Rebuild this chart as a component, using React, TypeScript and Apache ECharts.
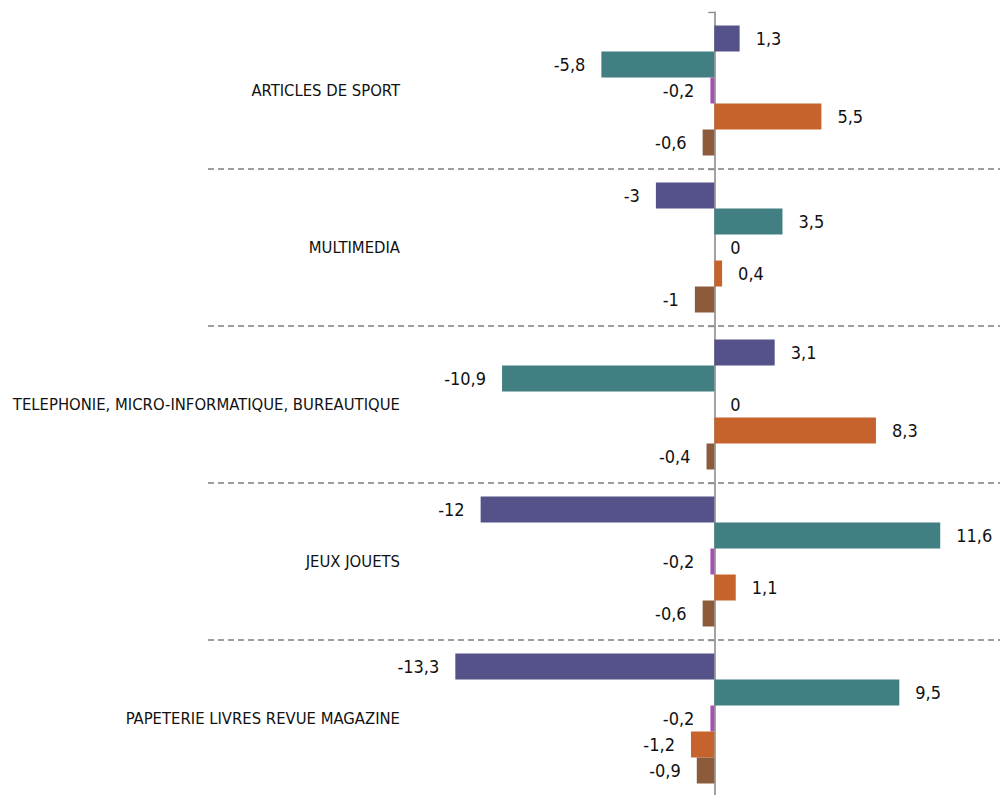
import React, { useEffect, useRef } from "react";
import * as echarts from "echarts";

const categories = [
  "ARTICLES DE SPORT",
  "MULTIMEDIA",
  "TELEPHONIE, MICRO-INFORMATIQUE, BUREAUTIQUE",
  "JEUX JOUETS",
  "PAPETERIE LIVRES REVUE MAGAZINE",
];

const seriesNames = ["Série 1", "Série 2", "Série 3", "Série 4", "Série 5"];
const seriesColors = ["#55528a", "#427f82", "#a452b2", "#c6632c", "#8b5b3b"];

const serie1 = [1.3, -3, 3.1, -12, -13.3];
const serie2 = [-5.8, 3.5, -10.9, 11.6, 9.5];
const serie3 = [-0.2, 0, 0, -0.2, -0.2];
const serie4 = [5.5, 0.4, 8.3, 1.1, -1.2];
const serie5 = [-0.6, -1, -0.4, -0.6, -0.9];

const allSeries = [serie1, serie2, serie3, serie4, serie5];

const FONT = '"DejaVu Sans Condensed", "Liberation Sans Narrow", sans-serif';

export default function App() {
  const ref = useRef<HTMLDivElement>(null);

  useEffect(() => {
    document.body.style.margin = "0";
    if (!ref.current) return;
    const chart = echarts.init(ref.current, undefined, { renderer: "svg" });
    chart.setOption({
      animation: false,
      backgroundColor: "#ffffff",
      grid: {
        left: 208,
        right: 8,
        top: 12,
        height: 785,
        containLabel: false,
        outerBoundsMode: "none",
      },
      xAxis: {
        type: "value",
        min: -26,
        max: 14.67,
        show: false,
        splitLine: { show: false },
      },
      yAxis: {
        type: "category",
        inverse: true,
        data: categories,
        axisLine: { show: true, onZero: true, lineStyle: { color: "#8c8c8c", width: 1.6 } },
        axisTick: { show: true, length: 6, lineStyle: { color: "#8c8c8c", width: 1.4 } },
        axisLabel: {
          margin: -192,
          fontFamily: FONT,
          fontSize: 16.5,
          color: "#111111",
          align: "right",
        },
        splitLine: {
          show: true,
          showMinLine: false,
          showMaxLine: false,
          lineStyle: { color: "#7f7f7f", width: 1.6, type: [6, 4] },
        },
      },
      series: allSeries.map((vals, i) => ({
        name: seriesNames[i],
        type: "bar",
        barGap: "0%",
        barCategoryGap: "17.2%",
        itemStyle: { color: seriesColors[i] },
        label: {
          show: true,
          distance: 16,
          fontFamily: FONT,
          fontSize: 18,
          color: "#111111",
          formatter: (p: any) => String(p.value).replace(".", ","),
        },
        data: vals.map((v) => ({
          value: v,
          label: { position: v < 0 ? "left" : "right" },
        })),
      })),
    });
    return () => chart.dispose();
  }, []);

  return (
    <div
      ref={ref}
      style={{ position: "fixed", left: 0, top: 0, width: 1008, height: 795 }}
    />
  );
}
